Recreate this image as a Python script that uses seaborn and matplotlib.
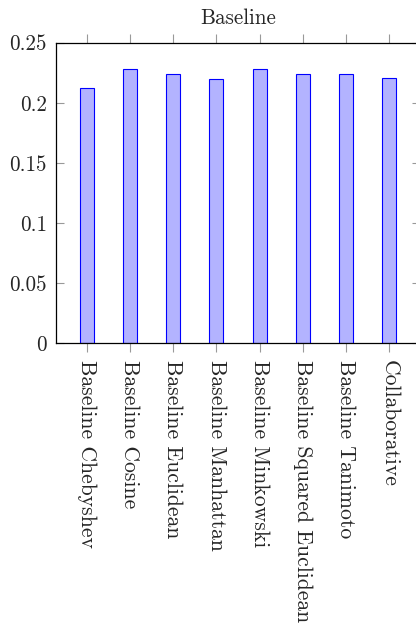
import matplotlib
matplotlib.use("Agg")
import matplotlib.pyplot as plt
import seaborn as sns
import pandas as pd

categories = [
    "Baseline Chebyshev",
    "Baseline Cosine",
    "Baseline Euclidean",
    "Baseline Manhattan",
    "Baseline Minkowski",
    "Baseline Squared Euclidean",
    "Baseline Tanimoto",
    "Collaborative",
]
scores = [0.212, 0.228, 0.224, 0.220, 0.228, 0.224, 0.224, 0.221]
y_ticks = [0, 0.05, 0.1, 0.15, 0.2, 0.25]
y_tick_labels = ["0", "0.05", "0.1", "0.15", "0.2", "0.25"]
title = "Baseline"

sns.set_style("white")
plt.rcParams["font.family"] = ["cmr10", "DejaVu Serif"]
plt.rcParams["axes.unicode_minus"] = False

df = pd.DataFrame({"method": categories, "score": scores})

fig = plt.figure(figsize=(4.16, 6.28), dpi=100)
ax = fig.add_axes([0.1346, 0.4533, 0.875, 0.4787])

sns.barplot(data=df, x="method", y="score", width=0.32, color="#b3b3ff",
            saturation=1, edgecolor="#0000ff", linewidth=0.8, ax=ax)

ax.set_xlim(-0.71, len(categories) - 1 + 0.71)
ax.set_ylim(0, 0.25)
ax.set_yticks(y_ticks)
ax.set_yticklabels(y_tick_labels, fontsize=15.2)
ax.set_xticks(range(len(categories)))
ax.set_xticklabels(categories, rotation=-90, ha="center", va="top", fontsize=15.6)
ax.set_xlabel("")
ax.set_ylabel("")

for s in ax.spines.values():
    s.set_color("black")
    s.set_linewidth(0.9)
    s.set_visible(True)

ax.tick_params(axis="x", which="both", top=True, bottom=True, direction="out",
               length=6.2, width=0.8, color="#999999", pad=5.5)
ax.tick_params(axis="y", which="both", left=True, right=True, direction="in",
               length=6.0, width=0.8, color="#999999", pad=6.5)

ax.text(0.5, 1.062, title, transform=ax.transAxes, ha="center", va="baseline",
        fontsize=15.2)

fig.savefig("out.png", dpi=100)
